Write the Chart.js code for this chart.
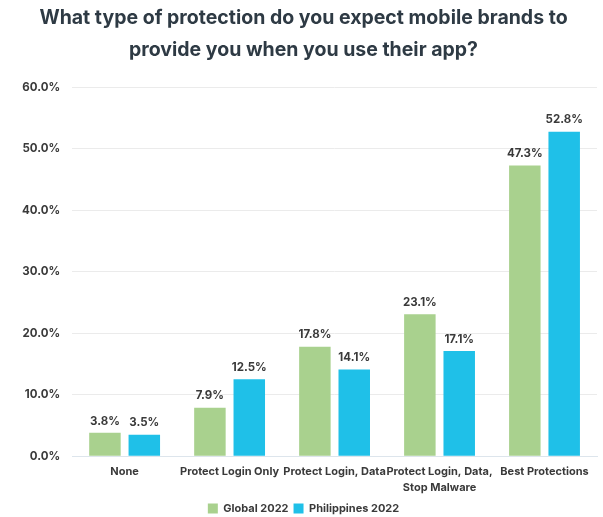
<!DOCTYPE html>
<html>
<head>
<meta charset="utf-8">
<script src="https://cdn.jsdelivr.net/npm/chart.js@4.4.0/dist/chart.umd.min.js"></script>
<style>
  html, body { margin: 0; padding: 0; background: #fff; }
  #wrap { width: 603px; height: 517px; }
</style>
</head>
<body>
<div id="wrap"><canvas id="chart" width="603" height="517"></canvas></div>
<script>
const categories = [
  'None',
  'Protect Login Only',
  'Protect Login, Data',
  ['Protect Login, Data,', 'Stop Malware'],
  'Best Protections'
];
const globalValues = [3.8, 7.9, 17.8, 23.1, 47.3];
const philippinesValues = [3.5, 12.5, 14.1, 17.1, 52.8];
const seriesNames = ['Global 2022', 'Philippines 2022'];

const FONT = "'Inter', 'Open Sans', sans-serif";

// value labels above each bar
const barLabels = {
  id: 'barLabels',
  afterDatasetsDraw(chart) {
    const ctx = chart.ctx;
    ctx.save();
    ctx.font = "bold 11.5px " + FONT;
    ctx.fillStyle = '#3a3a3a';
    ctx.textAlign = 'center';
    ctx.textBaseline = 'bottom';
    chart.data.datasets.forEach((ds, i) => {
      chart.getDatasetMeta(i).data.forEach((bar, j) => {
        ctx.fillText(ds.data[j].toFixed(1) + '%', bar.x, bar.y - 6);
      });
    });
    ctx.restore();
  }
};

new Chart(document.getElementById('chart'), {
  type: 'bar',
  data: {
    labels: categories,
    datasets: [
      { label: seriesNames[0], data: globalValues, backgroundColor: '#a9d18e' },
      { label: seriesNames[1], data: philippinesValues, backgroundColor: '#1fc0e8' }
    ]
  },
  options: {
    responsive: false,
    animation: false,
    layout: { padding: { left: 10, right: 6, top: 0, bottom: -7 } },
    datasets: { bar: { categoryPercentage: 0.75, barPercentage: 0.8 } },
    plugins: {
      title: {
        display: true,
        text: ['What type of protection do you expect mobile brands to', 'provide you when you use their app?'],
        color: '#2e3a44',
        font: { family: FONT, size: 19.5, weight: 'bold', lineHeight: 1.6 },
        padding: { top: 3, bottom: 22 }
      },
      legend: {
        position: 'bottom',
        labels: {
          boxWidth: 10,
          boxHeight: 10,
          color: '#3a3a3a',
          padding: 5,
          font: { family: FONT, size: 11, weight: 'bold' }
        }
      },
      tooltip: { enabled: false }
    },
    scales: {
      x: {
        grid: { display: false, drawTicks: false },
        border: { color: '#dde5ec' },
        // tighten the gap between the wrapped labels and the legend
        afterFit: axis => { axis.height -= 5; },
        ticks: {
          color: '#3a3a3a',
          padding: 8,
          maxRotation: 0,
          autoSkip: false,
          font: { family: FONT, size: 11, weight: 'bold', lineHeight: 1.4 }
        }
      },
      y: {
        min: 0,
        max: 60,
        border: { display: false },
        grid: { color: '#ebebeb', drawTicks: false },
        ticks: {
          stepSize: 10,
          padding: 12,
          color: '#3a3a3a',
          font: { family: FONT, size: 11.5, weight: 'bold' },
          callback: v => v.toFixed(1) + '%'
        }
      }
    }
  },
  plugins: [barLabels]
});
</script>
</body>
</html>
